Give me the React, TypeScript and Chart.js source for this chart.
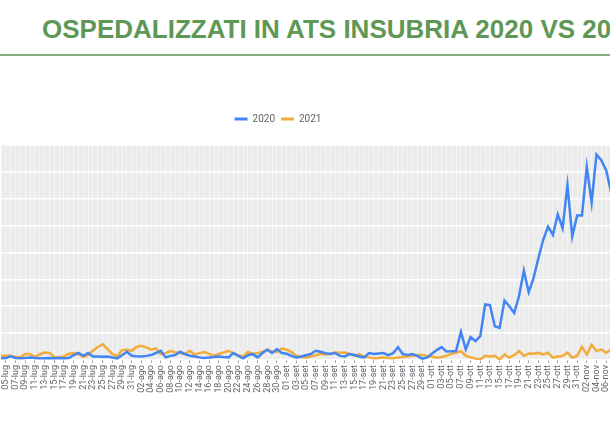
import React, { useEffect, useRef } from 'react';
import { Chart, registerables } from 'chart.js';

Chart.register(...registerables);

const TITLE = 'OSPEDALIZZATI IN ATS INSUBRIA 2020 VS 2021';
const SERIES_NAMES = ['2020', '2021'];

const dayLabels = [
  '04-lug', '05-lug', '06-lug', '07-lug', '08-lug', '09-lug', '10-lug', '11-lug', '12-lug', '13-lug',
  '14-lug', '15-lug', '16-lug', '17-lug', '18-lug', '19-lug', '20-lug', '21-lug', '22-lug', '23-lug',
  '24-lug', '25-lug', '26-lug', '27-lug', '28-lug', '29-lug', '30-lug', '31-lug',
  '01-ago', '02-ago', '03-ago', '04-ago', '05-ago', '06-ago', '07-ago', '08-ago', '09-ago', '10-ago',
  '11-ago', '12-ago', '13-ago', '14-ago', '15-ago', '16-ago', '17-ago', '18-ago', '19-ago', '20-ago',
  '21-ago', '22-ago', '23-ago', '24-ago', '25-ago', '26-ago', '27-ago', '28-ago', '29-ago', '30-ago', '31-ago',
  '01-set', '02-set', '03-set', '04-set', '05-set', '06-set', '07-set', '08-set', '09-set', '10-set',
  '11-set', '12-set', '13-set', '14-set', '15-set', '16-set', '17-set', '18-set', '19-set', '20-set',
  '21-set', '22-set', '23-set', '24-set', '25-set', '26-set', '27-set', '28-set', '29-set', '30-set',
  '01-ott', '02-ott', '03-ott', '04-ott', '05-ott', '06-ott', '07-ott', '08-ott', '09-ott', '10-ott',
  '11-ott', '12-ott', '13-ott', '14-ott', '15-ott', '16-ott', '17-ott', '18-ott', '19-ott', '20-ott',
  '21-ott', '22-ott', '23-ott', '24-ott', '25-ott', '26-ott', '27-ott', '28-ott', '29-ott', '30-ott', '31-ott',
  '01-nov', '02-nov', '03-nov', '04-nov', '05-nov', '06-nov', '07-nov',
];

const values2020 = [
  12, 15, 26, 15, 12, 14, 19, 14, 12, 12,
  14, 12, 15, 12, 14, 35, 51, 31, 51, 26,
  26, 24, 26, 18, 12, 35, 60, 31, 28, 26,
  30, 36, 51, 67, 19, 30, 36, 60, 43, 31,
  26, 19, 14, 19, 22, 26, 22, 19, 51, 30,
  12, 35, 43, 19, 51, 75, 51, 80, 51, 45,
  30, 19, 26, 35, 43, 67, 60, 50, 43, 51,
  30, 26, 43, 36, 25, 19, 51, 43, 47, 51,
  36, 50, 92, 43, 36, 43, 30, 10, 17, 45,
  72, 94, 62, 63, 65, 205, 78, 167, 138, 174,
  404, 399, 246, 234, 433, 391, 343, 464, 650, 493,
  596, 741, 875, 971, 911, 1060, 959, 1273, 899, 1051,
  1051, 1406, 1147, 1495, 1454, 1382, 1225,
];

const values2021 = [
  31, 31, 31, 24, 19, 43, 43, 22, 40, 55,
  52, 22, 20, 26, 45, 50, 43, 22, 35, 70,
  95, 114, 80, 43, 28, 72, 75, 67, 95, 104,
  92, 75, 85, 43, 50, 65, 57, 50, 43, 67,
  40, 50, 58, 45, 31, 45, 55, 67, 48, 35,
  26, 58, 45, 50, 60, 75, 62, 58, 84, 75,
  58, 30, 22, 19, 25, 35, 45, 40, 45, 55,
  52, 55, 45, 31, 43, 25, 19, 12, 15, 19,
  14, 12, 19, 22, 26, 31, 36, 36, 30, 25,
  17, 22, 30, 45, 53, 65, 30, 20, 10, 5,
  30, 25, 30, 3, 41, 17, 35, 65, 30, 48,
  45, 53, 41, 53, 17, 25, 30, 53, 17, 30,
  96, 41, 111, 65, 77, 53, 77,
];

const Y_MAX = 1565;
const Y_STEP = 200;

const BLUE = '#4285f4';
const ORANGE = '#f2ab3c';
const TEXT = '#5f6368';

export default function App() {
  const ref = useRef<HTMLCanvasElement>(null);

  useEffect(() => {
    const canvas = ref.current;
    if (!canvas) return;

    const plotBg = {
      id: 'plotBg',
      beforeDraw(chart: any) {
        const { ctx, chartArea: a } = chart;
        ctx.save();
        ctx.fillStyle = '#ebebeb';
        ctx.fillRect(a.left, a.top, a.right - a.left, a.bottom - a.top);
        ctx.restore();
      },
    };

    const legendGap = {
      id: 'legendGap',
      beforeInit(chart: any) {
        const legend = chart.legend;
        if (!legend) return;
        const orig = legend.fit;
        legend.fit = function () {
          orig.call(this);
          this.height += 11;
        };
      },
    };

    const chart = new Chart(canvas, {
      type: 'line',
      data: {
        labels: dayLabels,
        datasets: [
          {
            label: SERIES_NAMES[0],
            data: values2020,
            borderColor: BLUE,
            backgroundColor: BLUE,
            borderWidth: 2.5,
            pointRadius: 0,
            tension: 0,
            fill: false,
          },
          {
            label: SERIES_NAMES[1],
            data: values2021,
            borderColor: ORANGE,
            backgroundColor: ORANGE,
            borderWidth: 2.5,
            pointRadius: 0,
            tension: 0,
            fill: false,
          },
        ],
      },
      options: {
        responsive: false,
        animation: false,
        layout: { padding: 0 },
        plugins: {
          tooltip: { enabled: false },
          legend: {
            position: 'top',
            align: 'center',
            labels: {
              boxWidth: 13,
              boxHeight: 3,
              padding: 6,
              color: TEXT,
              font: { family: 'Roboto', size: 10 },
              generateLabels: (c: any) =>
                c.data.datasets.map((d: any, i: number) => ({
                  text: d.label,
                  fillStyle: d.borderColor,
                  strokeStyle: d.borderColor,
                  lineWidth: 0,
                  hidden: false,
                  datasetIndex: i,
                  fontColor: TEXT,
                })),
            },
          },
        },
        scales: {
          x: {
            type: 'category',
            offset: false,
            border: { display: false },
            grid: {
              color: 'rgba(255,255,255,0.45)',
              lineWidth: 1,
              drawTicks: true,
              tickLength: 3,
              tickColor: (ctx: any) => (ctx.index % 2 === 1 ? '#9aa0a6' : 'rgba(0,0,0,0)'),
            },
            ticks: {
              autoSkip: false,
              minRotation: 90,
              maxRotation: 90,
              padding: 2,
              color: TEXT,
              font: { family: 'Roboto', size: 9 },
              callback: (_v: any, i: number) => (i % 2 === 1 ? dayLabels[i] : ''),
            },
            afterFit: (s: any) => {
              s.height = 40;
              s.paddingLeft = 0;
              s.paddingRight = 0;
            },
          },
          y: {
            min: 0,
            max: Y_MAX,
            border: { display: false },
            grid: { color: '#ffffff', lineWidth: 1.6, drawTicks: false },
            ticks: { display: false, stepSize: Y_STEP },
            afterFit: (s: any) => {
              s.width = 56;
            },
          },
        },
      },
      plugins: [plotBg, legendGap],
    } as any);

    return () => chart.destroy();
  }, []);

  return (
    <div
      style={{
        position: 'fixed',
        left: 0,
        top: 0,
        width: 610,
        height: 431,
        overflow: 'hidden',
        background: '#ffffff',
      }}
    >
      <div
        style={{
          position: 'absolute',
          left: 42,
          top: 16,
          whiteSpace: 'nowrap',
          fontFamily: '"Liberation Sans", Arial, sans-serif',
          fontWeight: 700,
          fontSize: 26,
          lineHeight: 1,
          color: '#5f9856',
        }}
      >
        {TITLE}
      </div>
      <div
        style={{
          position: 'absolute',
          left: 0,
          top: 54,
          width: 610,
          height: 2,
          background: '#84b07c',
        }}
      />
      <canvas
        ref={ref}
        width={666}
        height={292}
        style={{ position: 'absolute', left: -55, top: 108, width: 666, height: 292 }}
      />
    </div>
  );
}
